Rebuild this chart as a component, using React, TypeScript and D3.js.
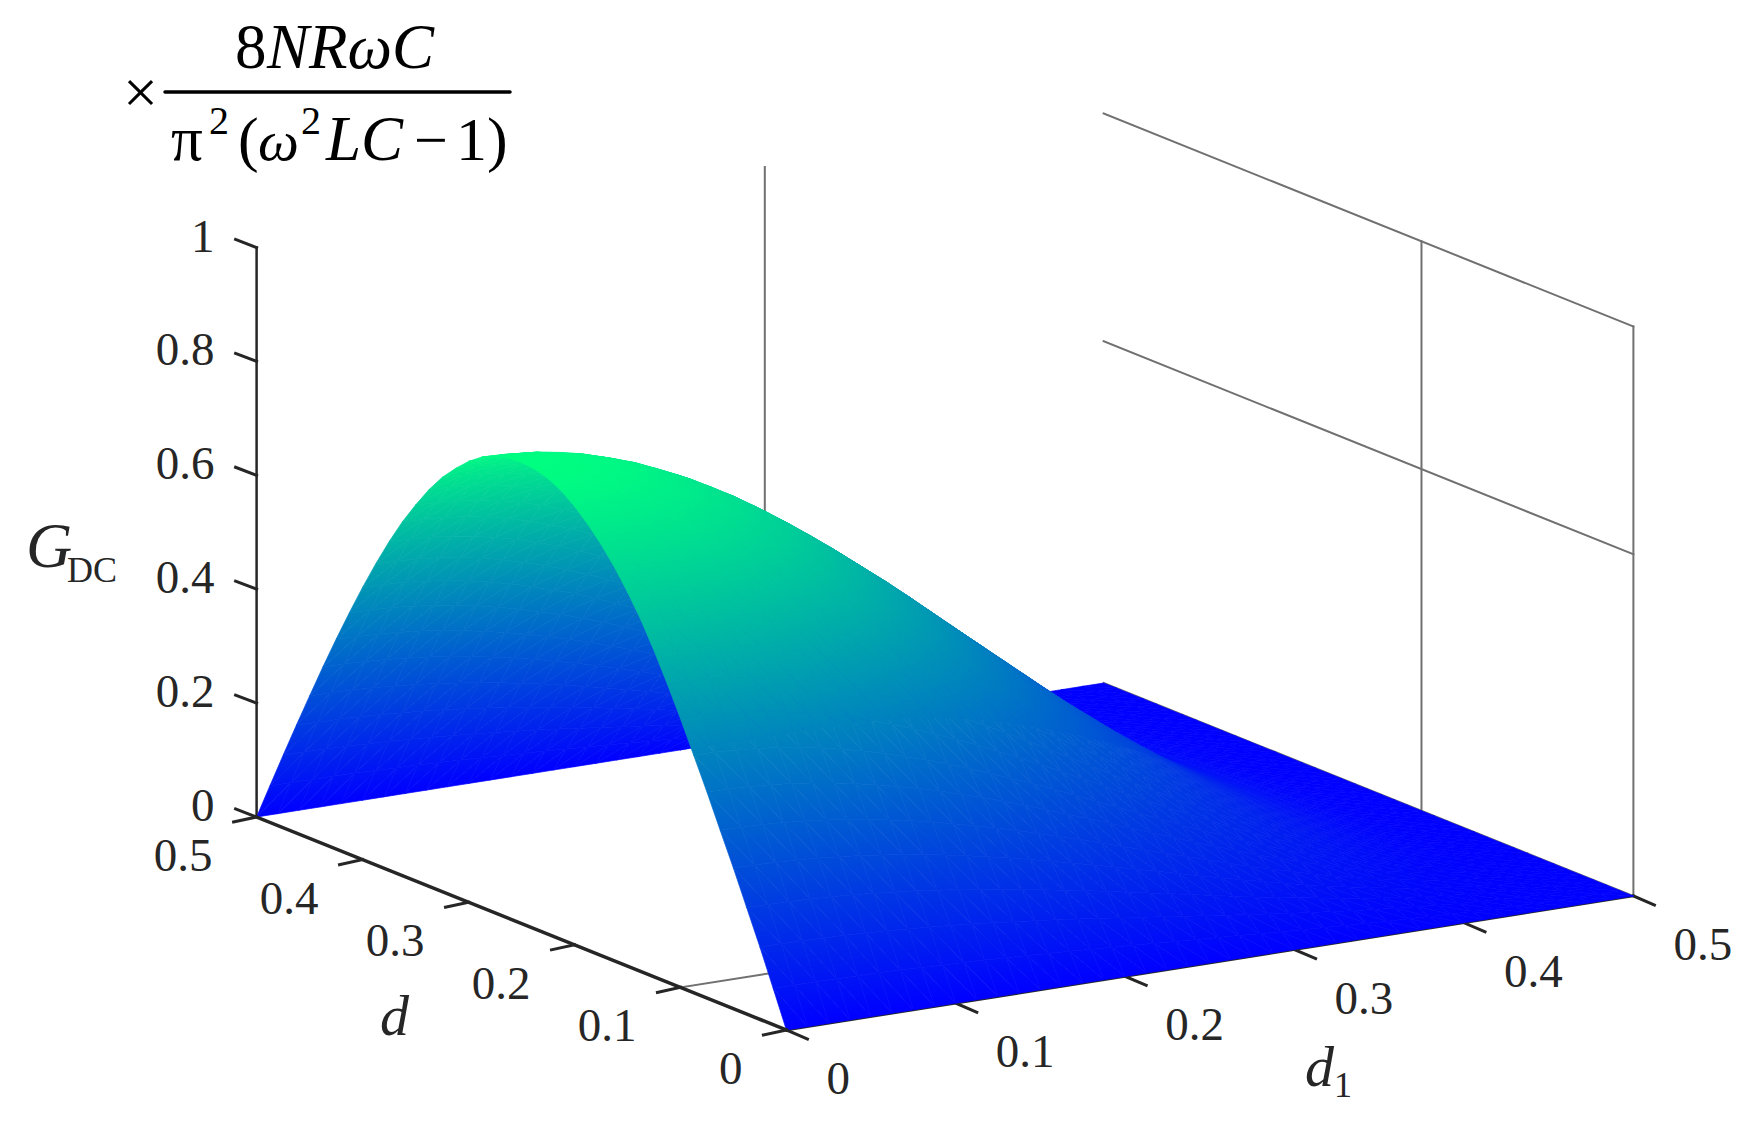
import React, { useEffect, useRef } from 'react';
import * as d3 from 'd3';

// Axis ticks
const zTicks = [0, 0.2, 0.4, 0.6, 0.8, 1];
const dTicks = [0, 0.1, 0.2, 0.3, 0.4, 0.5];
const d1Ticks = [0, 0.1, 0.2, 0.3, 0.4, 0.5];

// Grid lines that show on the back walls and floor
const wallZLines = [0, 0.6, 1];
const wallDLines = [0, 0.2];
const wallD1Lines = [0.3];
const floorDLines = [0.1];

// Surface samples, both axes run 0 to 0.5 in steps of 0.0125
const sampleCount = 41;
const sampleStep = 0.0125;
// height along the d1 = 0 edge, from d = 0 to d = 0.5
const edgeHeight = [
  0, 0.064, 0.127, 0.187, 0.247, 0.304, 0.362, 0.417, 0.472, 0.524,
  0.573, 0.618, 0.657, 0.692, 0.722, 0.748, 0.77, 0.788, 0.8, 0.807,
  0.81,
  0.808, 0.802, 0.791, 0.774, 0.752, 0.727, 0.696, 0.66, 0.621, 0.577,
  0.529, 0.478, 0.424, 0.368, 0.31, 0.25, 0.189, 0.127, 0.064, 0,
];
// share of that height left as d1 goes from 0 to 0.5
const heightShare = [
  1, 0.998, 0.994, 0.986, 0.976, 0.962, 0.946, 0.926, 0.905, 0.88,
  0.854, 0.825, 0.794, 0.761, 0.727, 0.691, 0.655, 0.617, 0.578, 0.539,
  0.5,
  0.461, 0.422, 0.383, 0.345, 0.309, 0.273, 0.239, 0.206, 0.175, 0.146,
  0.12, 0.095, 0.074, 0.054, 0.038, 0.024, 0.014, 0.006, 0.002, 0,
];

const textColor = '#262626';
const gridColor = '#707070';
const serif = '"Liberation Serif", serif';

// Parallel projection, measured from the corners of the box
const originX = 786.4;
const originY = 1030;
const d1X = d3.scaleLinear().domain([0, 0.5]).range([0, 847]);
const d1Y = d3.scaleLinear().domain([0, 0.5]).range([0, -134]);
const dX = d3.scaleLinear().domain([0, 0.5]).range([0, -529.8]);
const dY = d3.scaleLinear().domain([0, 0.5]).range([0, -213]);
const zY = d3.scaleLinear().domain([0, 1]).range([0, -569.5]);

const project = (d1: number, d: number, z: number): [number, number] => [
  originX + d1X(d1) + dX(d),
  originY + d1Y(d1) + dY(d) + zY(z),
];

const color = d3.scaleLinear<string>().domain([0, 0.81]).range(['#0000ff', '#00ff80']);

const App = () => {
  const svgRef = useRef<SVGSVGElement>(null);

  useEffect(() => {
    const svg = d3.select(svgRef.current);
    svg.selectAll('*').remove();
    const defs = svg.append('defs');

    const segment = (g: any, a: [number, number], b: [number, number], stroke: string, width: number) =>
      g.append('line')
        .attr('x1', a[0]).attr('y1', a[1])
        .attr('x2', b[0]).attr('y2', b[1])
        .attr('stroke', stroke)
        .attr('stroke-width', width)
        .attr('stroke-linecap', 'square');

    // Grid
    const grid = svg.append('g');
    wallZLines.forEach(z => segment(grid, project(0.5, 0.5, z), project(0.5, 0, z), gridColor, 2));
    wallDLines.forEach(d => segment(grid, project(0.5, d, 0), project(0.5, d, 1), gridColor, 2));
    wallD1Lines.forEach(d1 => segment(grid, project(d1, 0.5, 0), project(d1, 0.5, 1), gridColor, 2));
    floorDLines.forEach(d => segment(grid, project(0, d, 0), project(0.5, d, 0), gridColor, 2));

    // Axes under the surface
    const axes = svg.append('g');
    segment(axes, project(0, 0.5, 0), project(0, 0.5, 1), textColor, 2.5);
    segment(axes, project(0, 0, 0), project(0.5, 0, 0), textColor, 2.5);

    zTicks.forEach(z => {
      const p = project(0, 0.5, z);
      segment(axes, p, [p[0] - 21, p[1] - 8], textColor, 3);
    });
    d1Ticks.forEach(d1 => {
      const p = project(d1, 0, 0);
      segment(axes, p, [p[0] + 21, p[1] + 9], textColor, 3);
    });

    // Surface, far cells first so that near ones paint over them
    const surface = svg.append('g');
    const height = (i: number, j: number) => edgeHeight[j] * heightShare[i];
    let gradientId = 0;

    const triangle = (verts: [number, number][]) => {
      const vals = verts.map(([i, j]) => height(i, j));
      const pts = verts.map(([i, j], k) => project(i * sampleStep, j * sampleStep, vals[k]));
      const [p0, p1, p2] = pts;
      const det = (p1[0] - p0[0]) * (p2[1] - p0[1]) - (p2[0] - p0[0]) * (p1[1] - p0[1]);
      const low = d3.min(vals) as number;
      const high = d3.max(vals) as number;
      let paint = color((low + high) / 2);

      if (Math.abs(det) > 0.01 && high - low > 1e-5) {
        // colour is linear over the triangle, so one linear gradient is exact
        const gx = ((vals[1] - vals[0]) * (p2[1] - p0[1]) - (vals[2] - vals[0]) * (p1[1] - p0[1])) / det;
        const gy = ((vals[2] - vals[0]) * (p1[0] - p0[0]) - (vals[1] - vals[0]) * (p2[0] - p0[0])) / det;
        const len2 = gx * gx + gy * gy;
        const start = pts[vals.indexOf(low)];
        const id = `cell${gradientId++}`;
        const gradient = defs.append('linearGradient')
          .attr('id', id)
          .attr('gradientUnits', 'userSpaceOnUse')
          .attr('x1', start[0]).attr('y1', start[1])
          .attr('x2', start[0] + gx * (high - low) / len2)
          .attr('y2', start[1] + gy * (high - low) / len2);
        gradient.append('stop').attr('offset', 0).attr('stop-color', color(low));
        gradient.append('stop').attr('offset', 1).attr('stop-color', color(high));
        paint = `url(#${id})`;
      }

      surface.append('polygon')
        .attr('points', pts.map(p => p.join(',')).join(' '))
        .attr('fill', paint)
        .attr('stroke', paint)
        .attr('stroke-width', 0.7)
        .attr('stroke-linejoin', 'round');
    };

    for (let i = sampleCount - 2; i >= 0; i--) {
      for (let j = sampleCount - 2; j >= 0; j--) {
        triangle([[i + 1, j + 1], [i + 1, j], [i, j + 1]]);
        triangle([[i + 1, j], [i, j], [i, j + 1]]);
      }
    }

    // The d axis sits on top of the surface corner
    const frontAxis = svg.append('g');
    segment(frontAxis, project(0, 0.5, 0), project(0, 0, 0), textColor, 3.5);
    dTicks.forEach(d => {
      const p = project(0, d, 0);
      segment(frontAxis, p, [p[0] - 23, p[1] + 5], textColor, 3);
    });

    // Tick labels
    const label = (x: number, y: number, text: string, size: number, anchor = 'start', italic = false) =>
      svg.append('text')
        .attr('x', x).attr('y', y)
        .attr('text-anchor', anchor)
        .attr('font-family', serif)
        .attr('font-size', size)
        .attr('font-style', italic ? 'italic' : 'normal')
        .attr('fill', textColor)
        .text(text);

    zTicks.forEach(z => {
      const p = project(0, 0.5, z);
      label(p[0] - 42, p[1] + 4, String(z), 47, 'end');
    });
    dTicks.forEach(d => {
      const p = project(0, d, 0);
      label(p[0] - 44, p[1] + 54, String(d), 47, 'end');
    });
    d1Ticks.forEach(d1 => {
      const p = project(d1, 0, 0);
      label(p[0] + 40, p[1] + 64, String(d1), 47);
    });

    // Axis names
    label(26, 567, 'G', 64, 'start', true);
    label(67, 582, 'DC', 36);
    label(380, 1035, 'd', 58, 'start', true);
    label(1305, 1086, 'd', 58, 'start', true);
    label(1334, 1097, '1', 36);

    // Scale factor above the z axis
    const black = '#000000';
    label(123, 113, '×', 62).attr('fill', black);
    svg.append('line')
      .attr('x1', 165).attr('x2', 510).attr('y1', 92).attr('y2', 92)
      .attr('stroke', black).attr('stroke-width', 3.5).attr('stroke-linecap', 'round');
    label(235, 68, '8', 63).attr('fill', black);
    label(267, 68, 'NRωC', 63, 'start', true).attr('fill', black);
    label(171, 160, 'π', 63).attr('fill', black);
    label(209, 134, '2', 40).attr('fill', black);
    label(238, 160, '(', 62).attr('fill', black);
    label(258, 160, 'ω', 58, 'start', true).attr('fill', black);
    label(301, 134, '2', 40).attr('fill', black);
    label(326, 160, 'LC', 63, 'start', true).attr('fill', black);
    label(414, 160, '−', 60).attr('fill', black);
    label(456, 160, '1', 62).attr('fill', black);
    label(487, 160, ')', 62).attr('fill', black);
  }, []);

  return (
    <svg
      ref={svgRef}
      width={1757}
      height={1124}
      style={{ position: 'absolute', left: 0, top: 0, background: '#ffffff' }}
    />
  );
};

export default App;
